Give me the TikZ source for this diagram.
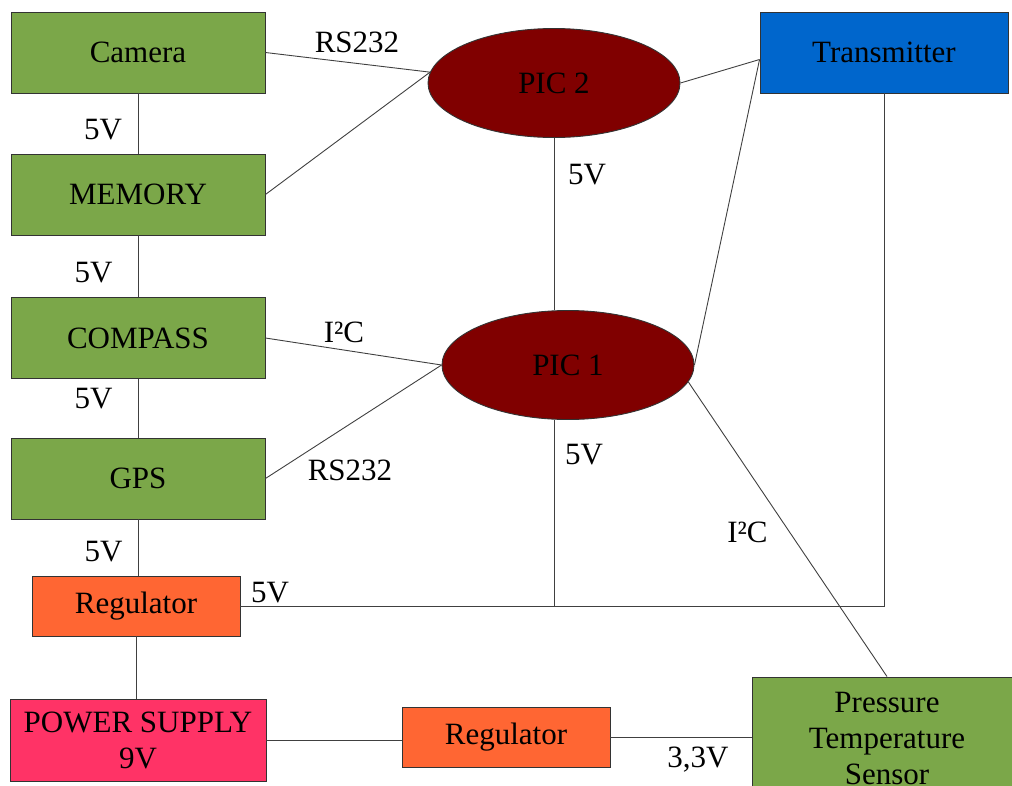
\documentclass[tikz,border=0pt]{standalone}
\usepackage{fontspec}
\setmainfont{Liberation Serif}
\usetikzlibrary{shapes.geometric}
\usepackage{xcolor}
\definecolor{boxgreen}{RGB}{123,167,73}
\definecolor{regorange}{RGB}{255,102,51}
\definecolor{supplypink}{RGB}{255,51,102}
\definecolor{txblue}{RGB}{0,102,204}
\definecolor{picred}{RGB}{128,0,0}
\newcommand{\diagfont}{\fontsize{31}{36}\selectfont}

\begin{document}
\begin{tikzpicture}[
    x=1pt, y=-1pt,
    box/.style={draw=black!80, line width=0.9pt, minimum width=254pt, minimum height=81pt, inner sep=0pt, align=center, font=\diagfont},
    chip/.style={ellipse, draw=black!80, line width=0.9pt, fill=picred, minimum width=252pt, minimum height=109pt, inner sep=0pt, font=\diagfont},
    wire/.style={black!75, line width=0.9pt},
    tag/.style={font=\diagfont, inner sep=0pt, text depth=0pt}
]
\useasboundingbox (0,0) rectangle (1012,785);
\clip (0,0) rectangle (1012,785);

% left column
\node[box, fill=boxgreen] (camera) at (138, 52.5) {Camera};
\node[box, fill=boxgreen] (memory) at (138, 194.5) {MEMORY};
\node[box, fill=boxgreen] (compass) at (138, 338) {COMPASS};
\node[box, fill=boxgreen] (gps) at (138, 478.5) {GPS};
\node[box, fill=regorange, minimum width=208pt, minimum height=60pt] (reg5) at (136, 606) {Regulator};
\node[box, fill=supplypink, minimum width=256pt, minimum height=82pt] (supply) at (138, 740) {POWER SUPPLY\\9V};

% controllers and right side
\node[chip] (pic2) at (554, 83) {PIC 2};
\node[chip] (pic1) at (568, 365) {PIC 1};
\node[box, fill=txblue, minimum width=248pt] (tx) at (884, 52.5) {Transmitter};
\node[box, fill=regorange, minimum width=208pt, minimum height=60pt] (reg33) at (506, 737) {Regulator};
\node[box, fill=boxgreen, minimum width=270pt, minimum height=122pt] (sensor) at (887, 738) {Pressure\\Temperature\\Sensor};

\coordinate (txin) at ([yshift=-7pt]tx.west);
\coordinate (tap) at (pic2.south |- reg5.east);
\coordinate (corner) at (tx.south |- reg5.east);

% power chain
\draw[wire] (camera) -- (memory);
\draw[wire] (memory) -- (compass);
\draw[wire] (compass) -- (gps);
\draw[wire] (gps.south) -- (gps.south |- reg5.north);
\draw[wire] (reg5.south) -- (reg5.south |- supply.north);
\draw[wire] (supply.east) -- (supply.east -| reg33.west);
\draw[wire] (reg33.east) -- (reg33.east -| sensor.west);
\draw[wire] (reg5.east) -- (corner) -- (tx.south);
\draw[wire] (pic1.south -| tap) -- (tap);
\draw[wire] (pic2.south) -- (pic1.north -| pic2.south);

% data links
\draw[wire] (camera.east) -- (pic2.175);
\draw[wire] (memory.east) -- (pic2.175);
\draw[wire] (pic2.east) -- (txin);
\draw[wire] (pic1.east) -- (txin);
\draw[wire] (compass.east) -- (pic1.west);
\draw[wire] (gps.east) -- (pic1.west);
\draw[wire] (pic1.-8.5) -- (sensor.north);

% labels
\node[tag] (rs232a) at (357, 42) {RS232};
\node[tag] (v5a) at (103, 129) {5V};
\node[tag] (v5b) at (587, 174) {5V};
\node[tag] (v5c) at (93.5, 272) {5V};
\node[tag] (i2ca) at (344, 332) {I²C};
\node[tag] (v5d) at (93.5, 398) {5V};
\node[tag] (v5e) at (584, 454) {5V};
\node[tag] (rs232b) at (350, 470) {RS232};
\node[tag] (i2cb) at (747.5, 532) {I²C};
\node[tag] (v5f) at (103.5, 551) {5V};
\node[tag] (v5g) at (270, 592) {5V};
\node[tag] (v33) at (698, 757) {3,3V};
\end{tikzpicture}
\end{document}
